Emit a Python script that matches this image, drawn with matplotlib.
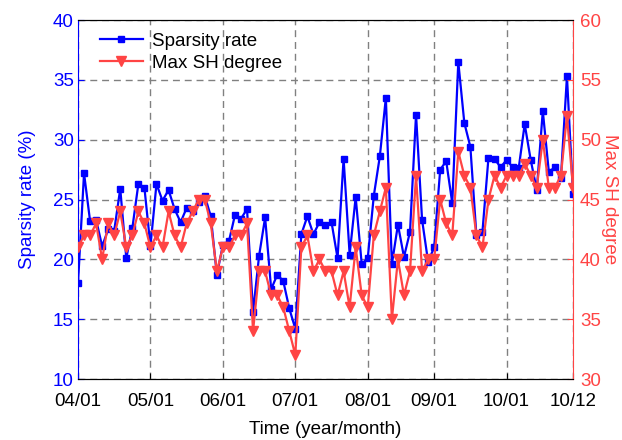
import matplotlib
matplotlib.use("Agg")
import matplotlib.pyplot as plt

plt.rcParams['font.family'] = ['Liberation Sans', 'DejaVu Sans']

# one sample roughly every 2-3 days, 04/01 .. 10/12
sparsity = [18.0, 27.2, 23.2, 23.3, 21.1, 22.5, 22.4, 25.9, 20.1, 22.6,
            26.3, 26.0, 21.1, 26.3, 24.9, 25.8, 24.2, 23.1, 24.3, 24.0,
            24.8, 25.3, 23.6, 18.7, 21.2, 21.5, 23.7, 23.4, 24.2, 15.6,
            20.3, 23.5, 17.5, 18.7, 18.2, 15.9, 14.2, 22.1, 23.6, 22.1,
            23.1, 22.9, 23.1, 20.1, 28.4, 20.4, 25.2, 19.6, 20.1, 25.3,
            28.6, 33.5, 19.6, 22.9, 20.2, 22.3, 32.1, 23.3, 19.8, 21.0,
            27.5, 28.2, 24.7, 36.5, 31.4, 29.4, 22.0, 22.3, 28.5, 28.4,
            27.7, 28.3, 27.7, 27.6, 31.3, 28.3, 25.8, 32.4, 27.3, 27.7,
            26.8, 35.3, 25.5]
max_sh = [41, 42, 42, 43, 40, 43, 42, 44, 41, 42,
          44, 43, 41, 42, 41, 44, 42, 41, 43, 44,
          45, 45, 43, 39, 41, 41, 42, 42, 43, 34,
          39, 39, 37, 37, 36, 34, 32, 41, 42, 39,
          40, 39, 39, 37, 39, 36, 41, 37, 36, 42,
          44, 46, 35, 40, 37, 39, 47, 39, 40, 40,
          45, 43, 42, 49, 47, 46, 42, 41, 45, 47,
          46, 47, 47, 47, 48, 47, 46, 50, 46, 46,
          47, 52, 46]
tick_idx = [0, 12, 24, 36, 48, 59, 71, 82]
tick_labels = ["04/01", "05/01", "06/01", "07/01", "08/01", "09/01", "10/01", "10/12"]

blue = "#0000ff"
red = "#ff4444"
fs = 13.5

fig = plt.figure(figsize=(6.22, 4.40), dpi=100)
ax = fig.add_axes([0.1254, 0.1386, 0.7958, 0.8159])
ax2 = ax.twinx()

x = list(range(len(sparsity)))
l1, = ax.plot(x, sparsity, color=blue, lw=1.6, marker="s", ms=5, label="Sparsity rate")
l2, = ax2.plot(x, max_sh, color=red, lw=1.6, marker="v", ms=7, label="Max SH degree")

ax.set_xlim(0, 82)
ax.set_ylim(10, 40)
ax2.set_ylim(30, 60)
ax.set_yticks([10, 15, 20, 25, 30, 35, 40])
ax2.set_yticks([30, 35, 40, 45, 50, 55, 60])
ax.set_xticks(tick_idx)
ax.set_xticklabels(tick_labels)

ax.grid(True, ls=(0, (5, 3.5)), color="#808080", lw=1)

ax.tick_params(axis="x", direction="in", labelsize=fs, length=4, pad=10)
ax.tick_params(axis="y", direction="in", colors=blue, labelsize=fs, length=4, pad=3)
ax2.tick_params(axis="y", direction="in", colors=red, labelsize=fs, length=4, pad=5)

ax.spines["left"].set_color(blue)
ax.spines["right"].set_visible(False)
ax2.spines["left"].set_visible(False)
ax2.spines["right"].set_color(red)

ax.set_xlabel("Time (year/month)", fontsize=fs, labelpad=8)
ax.set_ylabel("Sparsity rate (%)", fontsize=fs, color=blue, labelpad=12)
ax2.set_ylabel("Max SH degree", fontsize=fs, color=red, rotation=270, labelpad=12)

ax.legend([l1, l2], ["Sparsity rate", "Max SH degree"], loc="upper left",
          bbox_to_anchor=(0.044, 0.965), frameon=False, fontsize=fs,
          borderpad=0, borderaxespad=0, handlelength=2.3, handletextpad=0.5,
          labelspacing=0.25)

fig.savefig("out.png", dpi=100)
